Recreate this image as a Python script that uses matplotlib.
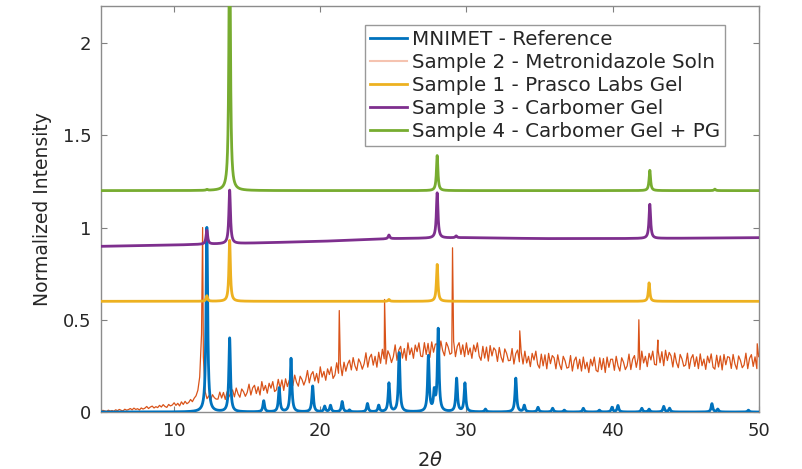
import numpy as np
import matplotlib.pyplot as plt

# ---- data ----
# MNIMET reference pattern: peak positions (2theta) and heights
ref_pos = [12.24, 13.8, 16.13, 17.19, 18.0, 19.48, 20.3, 20.7, 21.5, 22.0, 23.23, 24.0,
           24.7, 25.4, 27.4, 27.8, 28.07, 29.33, 29.9, 31.3, 33.38, 33.96, 34.9, 35.9,
           36.7, 38.0, 39.1, 39.96, 40.37, 42.0, 42.5, 43.5, 43.9, 46.8, 47.2, 49.3]
ref_h = [1.0, 0.40, 0.06, 0.13, 0.29, 0.14, 0.03, 0.035, 0.056, 0.01, 0.045, 0.035,
         0.155, 0.32, 0.30, 0.10, 0.445, 0.18, 0.155, 0.015, 0.183, 0.035, 0.025, 0.02,
         0.01, 0.02, 0.01, 0.025, 0.035, 0.02, 0.015, 0.03, 0.02, 0.045, 0.015, 0.01]

# Sample 2 - solution: values every 0.125 deg, one row per degree (5 ... 49), then 50
s2_vals = [
    0.004, 0.009, 0.006, 0.003, 0.010, 0.005, 0.008, 0.004,   # 5
    0.012, 0.007, 0.014, 0.009, 0.006, 0.015, 0.010, 0.013,   # 6
    0.019, 0.012, 0.021, 0.014, 0.018, 0.011, 0.022, 0.016,   # 7
    0.021, 0.030, 0.019, 0.027, 0.032, 0.022, 0.029, 0.024,   # 8
    0.036, 0.027, 0.040, 0.030, 0.025, 0.041, 0.033, 0.038,   # 9
    0.050, 0.036, 0.047, 0.033, 0.055, 0.041, 0.058, 0.045,   # 10
    0.052, 0.068, 0.056, 0.075, 0.088, 0.118, 0.190, 0.420,   # 11
    0.300, 0.110, 0.072, 0.088, 0.066, 0.094, 0.078, 0.070,   # 12
    0.070, 0.108, 0.076, 0.106, 0.068, 0.110, 0.082, 0.104,   # 13
    0.120, 0.082, 0.130, 0.098, 0.080, 0.125, 0.110, 0.085,   # 14
    0.106, 0.151, 0.092, 0.131, 0.145, 0.100, 0.137, 0.092,   # 15
    0.165, 0.117, 0.144, 0.102, 0.156, 0.129, 0.165, 0.111,   # 16
    0.120, 0.177, 0.129, 0.174, 0.117, 0.180, 0.138, 0.171,   # 17
    0.188, 0.143, 0.200, 0.161, 0.140, 0.194, 0.176, 0.146,   # 18
    0.174, 0.225, 0.158, 0.203, 0.219, 0.168, 0.209, 0.158,   # 19
    0.245, 0.189, 0.220, 0.172, 0.234, 0.203, 0.245, 0.182,   # 20
    0.200, 0.267, 0.210, 0.263, 0.197, 0.270, 0.221, 0.260,   # 21
    0.281, 0.228, 0.295, 0.250, 0.225, 0.288, 0.267, 0.232,   # 22
    0.261, 0.321, 0.243, 0.295, 0.313, 0.254, 0.302, 0.243,   # 23
    0.324, 0.264, 0.340, 0.288, 0.260, 0.332, 0.308, 0.268,   # 24
    0.300, 0.364, 0.280, 0.336, 0.356, 0.292, 0.344, 0.280,   # 25
    0.375, 0.311, 0.347, 0.291, 0.363, 0.327, 0.375, 0.303,   # 26
    0.300, 0.376, 0.312, 0.372, 0.296, 0.380, 0.324, 0.368,   # 27
    0.369, 0.309, 0.385, 0.333, 0.305, 0.377, 0.353, 0.313,   # 28
    0.320, 0.384, 0.300, 0.356, 0.376, 0.312, 0.364, 0.300,   # 29
    0.375, 0.311, 0.347, 0.291, 0.363, 0.327, 0.375, 0.303,   # 30
    0.280, 0.356, 0.292, 0.352, 0.276, 0.360, 0.304, 0.348,   # 31
    0.334, 0.274, 0.350, 0.298, 0.270, 0.342, 0.318, 0.278,   # 32
    0.280, 0.344, 0.260, 0.316, 0.336, 0.272, 0.324, 0.260,   # 33
    0.330, 0.266, 0.302, 0.246, 0.318, 0.282, 0.330, 0.258,   # 34
    0.238, 0.314, 0.250, 0.310, 0.234, 0.318, 0.262, 0.306,   # 35
    0.294, 0.234, 0.310, 0.258, 0.230, 0.302, 0.278, 0.238,   # 36
    0.242, 0.306, 0.222, 0.278, 0.298, 0.234, 0.286, 0.222,   # 37
    0.298, 0.234, 0.270, 0.214, 0.286, 0.250, 0.298, 0.226,   # 38
    0.218, 0.294, 0.230, 0.290, 0.214, 0.298, 0.242, 0.286,   # 39
    0.286, 0.226, 0.302, 0.250, 0.222, 0.294, 0.270, 0.230,   # 40
    0.250, 0.314, 0.230, 0.286, 0.306, 0.242, 0.294, 0.230,   # 41
    0.330, 0.266, 0.302, 0.246, 0.318, 0.282, 0.330, 0.258,   # 42
    0.255, 0.331, 0.267, 0.327, 0.251, 0.335, 0.279, 0.323,   # 43
    0.304, 0.244, 0.320, 0.268, 0.240, 0.312, 0.288, 0.248,   # 44
    0.255, 0.319, 0.235, 0.291, 0.311, 0.247, 0.299, 0.235,   # 45
    0.315, 0.251, 0.287, 0.231, 0.303, 0.267, 0.315, 0.243,   # 46
    0.232, 0.308, 0.244, 0.304, 0.228, 0.312, 0.256, 0.300,   # 47
    0.296, 0.236, 0.312, 0.260, 0.232, 0.304, 0.280, 0.240,   # 48
    0.255, 0.319, 0.235, 0.291, 0.311, 0.247, 0.299, 0.235,   # 49
    0.300,                                                    # 50
]
s2_spike_pos = [11.95, 21.3, 24.4, 29.05, 33.65, 41.8, 43.1, 49.9]
s2_spike_h = [1.0, 0.55, 0.61, 0.89, 0.44, 0.50, 0.39, 0.37]

# Sample 1 - Prasco gel (offset 0.6)
s1_base = 0.6
s1_pos = [12.24, 13.8, 24.7, 28.0, 42.5]
s1_h = [0.03, 0.33, 0.01, 0.20, 0.10]

# Sample 3 - carbomer gel (offset ~0.9, slowly rising baseline)
s3_base_x = [5, 10, 15, 20, 25, 30, 35, 40, 45, 50]
s3_base_y = [0.898, 0.905, 0.915, 0.925, 0.94, 0.945, 0.94, 0.94, 0.942, 0.945]
s3_pos = [12.24, 13.8, 24.7, 28.0, 29.3, 42.55]
s3_h = [0.075, 0.29, 0.02, 0.245, 0.01, 0.185]

# Sample 4 - carbomer gel + PG (offset 1.2)
s4_base = 1.2
s4_pos = [12.24, 13.8, 28.0, 42.55, 47.0]
s4_h = [0.005, 1.5, 0.19, 0.11, 0.008]

labels = ['MNIMET - Reference', 'Sample 2 - Metronidazole Soln',
          'Sample 1 - Prasco Labs Gel', 'Sample 3 - Carbomer Gel',
          'Sample 4 - Carbomer Gel + PG']
colors = ['#0072BD', '#D95319', '#EDB120', '#7E2F8E', '#77AC30']


def peaks(x, pos, h, w=0.065):
    # lorentzian profile for each listed peak
    y = np.zeros_like(x)
    for p, a in zip(pos, h):
        y += a / (1 + ((x - p) / w) ** 2)
    return y


tt = np.linspace(5, 50, 4501)

ref_y = peaks(tt, ref_pos, ref_h)

s2_x = 5 + 0.125 * np.arange(len(s2_vals))
s2_x = np.concatenate([s2_x, s2_spike_pos])
s2_y = np.concatenate([s2_vals, s2_spike_h])
order = np.argsort(s2_x)
s2_x, s2_y = s2_x[order], s2_y[order]

s1_y = s1_base + peaks(tt, s1_pos, s1_h, 0.06)
s3_y = np.interp(tt, s3_base_x, s3_base_y) + peaks(tt, s3_pos, s3_h, 0.065)
s4_y = s4_base + peaks(tt, s4_pos, s4_h, 0.06)

# ---- figure ----
fig = plt.figure(figsize=(8.02, 4.69), dpi=100)
ax = fig.add_axes([0.126, 0.1215, 0.82, 0.8655])

ax.plot(tt, ref_y, color=colors[0], lw=2.0, label=labels[0], zorder=3)
ax.plot(s2_x, s2_y, color=colors[1], lw=0.9, label=labels[1], zorder=2)
ax.plot(tt, s1_y, color=colors[2], lw=2.0, label=labels[2], zorder=4)
ax.plot(tt, s3_y, color=colors[3], lw=2.0, label=labels[3], zorder=5)
ax.plot(tt, s4_y, color=colors[4], lw=2.0, label=labels[4], zorder=6)

ax.set_xlim(5, 50)
ax.set_ylim(0, 2.2)
ax.set_xticks([10, 20, 30, 40, 50])
ax.set_yticks([0, 0.5, 1, 1.5, 2])
ax.set_yticklabels(['0', '0.5', '1', '1.5', '2'])
ax.tick_params(direction='in', top=True, right=True, length=4.5, width=0.8,
               color='#808080', labelsize=13, labelcolor='#262626', pad=7)
for s in ax.spines.values():
    s.set_color('#8c8c8c')
    s.set_linewidth(1.0)

ax.set_xlabel(r'$2\theta$', fontsize=14, color='#262626', labelpad=8)
ax.set_ylabel('Normalized Intensity', fontsize=13.5, color='#262626', labelpad=8)

leg = ax.legend(loc='upper right', bbox_to_anchor=(0.949, 0.953), borderaxespad=0,
                fontsize=14.3, fancybox=False, framealpha=1, edgecolor='#999999',
                handlelength=1.85, handletextpad=0.25, borderpad=0.25, labelspacing=0.2)
leg.get_frame().set_linewidth(1.0)
for t in leg.get_texts():
    t.set_color('#262626')
# thin solution trace shows up pale in the key
leg.legend_handles[1].set_color('#F5C3B0')
leg.legend_handles[1].set_linewidth(1.5)

fig.savefig('out.png', dpi=100)
